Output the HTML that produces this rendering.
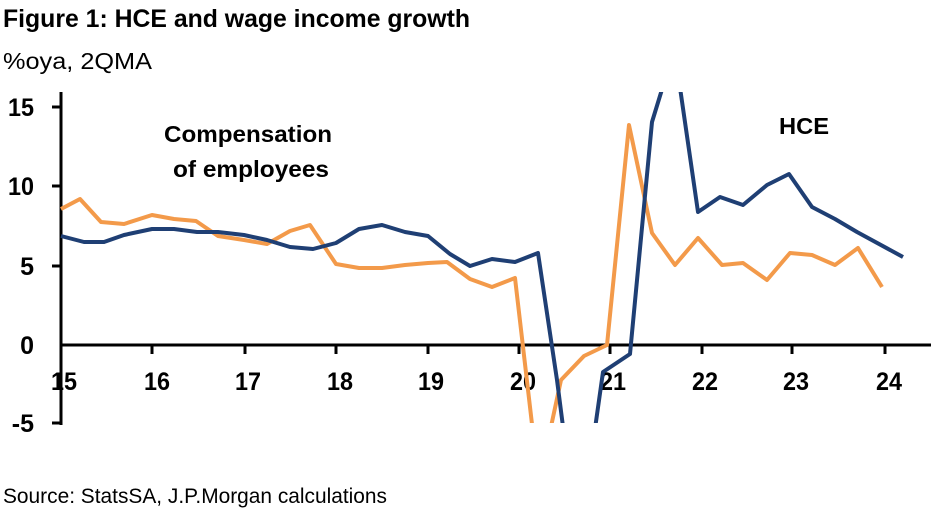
<!DOCTYPE html>
<html><head><meta charset="utf-8"><style>
html,body{margin:0;padding:0;background:#fff;}
body{width:940px;height:514px;overflow:hidden;}
svg text{font-family:"Liberation Sans",sans-serif;}
</style></head><body>
<svg width="940" height="514" viewBox="0 0 940 514" xmlns="http://www.w3.org/2000/svg">
<text x="3" y="27" font-size="25" font-weight="bold" fill="#000" textLength="467" lengthAdjust="spacingAndGlyphs">Figure 1: HCE and wage income growth</text>
<text x="3" y="69" font-size="23" fill="#000" textLength="149" lengthAdjust="spacingAndGlyphs">%oya, 2QMA</text>
<text x="3" y="503" font-size="21" fill="#000" textLength="384" lengthAdjust="spacingAndGlyphs">Source: StatsSA, J.P.Morgan calculations</text>
<defs><clipPath id="c"><rect x="40" y="92" width="900" height="331"/></clipPath></defs>
<g stroke="#000" stroke-width="3" fill="none">
<line x1="61" y1="92" x2="61" y2="425"/>
<line x1="52" y1="107" x2="61" y2="107"/>
<line x1="52" y1="186" x2="61" y2="186"/>
<line x1="52" y1="266" x2="61" y2="266"/>
<line x1="52" y1="423" x2="61" y2="423"/>
<line x1="61" y1="345" x2="931" y2="345"/>
<line x1="152" y1="345" x2="152" y2="354"/>
<line x1="245" y1="345" x2="245" y2="354"/>
<line x1="336" y1="345" x2="336" y2="354"/>
<line x1="428" y1="345" x2="428" y2="354"/>
<line x1="519" y1="345" x2="519" y2="354"/>
<line x1="610" y1="345" x2="610" y2="354"/>
<line x1="702" y1="345" x2="702" y2="354"/>
<line x1="792" y1="345" x2="792" y2="354"/>
<line x1="885" y1="345" x2="885" y2="354"/>
</g>
<g font-size="25" font-weight="bold" fill="#000" text-anchor="end">
<text x="34" y="116" textLength="26" lengthAdjust="spacingAndGlyphs">15</text><text x="34" y="195" textLength="26" lengthAdjust="spacingAndGlyphs">10</text><text x="34" y="275">5</text><text x="34" y="354">0</text><text x="34" y="432">-5</text>
</g>
<g font-size="25" font-weight="bold" fill="#000" text-anchor="middle">
<text x="64" y="390" textLength="26" lengthAdjust="spacingAndGlyphs">15</text><text x="157" y="390" textLength="26" lengthAdjust="spacingAndGlyphs">16</text><text x="248" y="390" textLength="26" lengthAdjust="spacingAndGlyphs">17</text><text x="340" y="390" textLength="26" lengthAdjust="spacingAndGlyphs">18</text><text x="431" y="390" textLength="26" lengthAdjust="spacingAndGlyphs">19</text><text x="523" y="390" textLength="26" lengthAdjust="spacingAndGlyphs">20</text><text x="613" y="390" textLength="26" lengthAdjust="spacingAndGlyphs">21</text><text x="705" y="390" textLength="26" lengthAdjust="spacingAndGlyphs">22</text><text x="796" y="390" textLength="26" lengthAdjust="spacingAndGlyphs">23</text><text x="889" y="390" textLength="26" lengthAdjust="spacingAndGlyphs">24</text>
</g>
<g font-size="23" font-weight="bold" fill="#000">
<text x="164" y="142" textLength="168" lengthAdjust="spacingAndGlyphs">Compensation</text>
<text x="173" y="177" textLength="156" lengthAdjust="spacingAndGlyphs">of employees</text>
<text x="779" y="134" textLength="50" lengthAdjust="spacingAndGlyphs">HCE</text>
</g>
<g clip-path="url(#c)" fill="none" stroke-width="4" stroke-linejoin="round">
<polyline stroke="#f39a4a" points="61,209 80,199 101,222 124,224 152,215 174,219 196,221 218,236 244,240 267,244 290,231 310,225 336,264 359,268 382,268 405,265 428,263 447,262 470,279 492,287 515,278 535,450 546,450 561,380 584,356 607,345 629,125 652,233 675,265 698,238 722,265 743,263 767,280 790,253 812,255 835,265 858,248 882,287"/>
<polyline stroke="#1f3f74" points="61,236 84,242 104,242 124,235 152,229 174,229 197,232 218,232 244,235 267,240 290,247 313,249 336,243 359,229 382,225 405,232 428,236 450,254 470,266 492,259 515,262 538,253 557,380 566,450 592,450 603,372 630,354 652,122 671,60 676,60 698,212 720,197 743,205 767,185 789,174 812,207 835,219 857,232 903,257"/>
</g>
</svg>
</body></html>
